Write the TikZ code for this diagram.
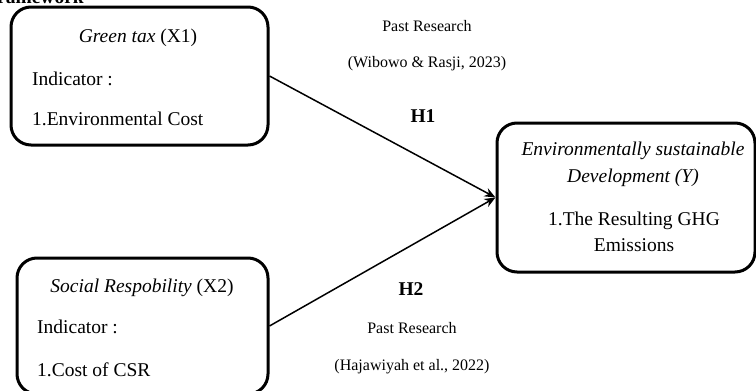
\documentclass[tikz,border=0pt]{standalone}
\usepackage{fontspec}
\setmainfont{Liberation Serif}
\usetikzlibrary{arrows.meta}
\begin{document}
\begin{tikzpicture}[x=1pt,y=-1pt,
  box/.style={draw=black,line width=3pt,rounded corners=20pt,inner sep=0pt},
  txt/.style={inner sep=0pt,font=\fontsize{19.5}{22}\selectfont},
  small/.style={inner sep=0pt,font=\fontsize{16}{19}\selectfont},
  conn/.style={line width=1.5pt,-{Stealth[length=11pt,width=9pt]}}]
\useasboundingbox (0,0) rectangle (756,391);
\node[txt,anchor=base west,font=\fontsize{19.5}{22}\selectfont\bfseries] (ttl) at (-15,3) {Framework};
% boxes
\node[box,minimum width=257pt,minimum height=138pt] (b1) at (139.5,76) {};
\node[box,minimum width=251pt,minimum height=136pt] (b2) at (142.5,326) {};
\node[box,minimum width=258pt,minimum height=149pt] (by) at (626,197.5) {};
% box 1 text
\node[txt,anchor=base] (g1) at (138,42) {\textit{Green tax} (X1)};
\node[txt,anchor=base west] (g2) at (32,85) {Indicator :};
\node[txt,anchor=base west] (g3) at (32,125) {1.Environmental Cost};
% box 2 text
\node[txt,anchor=base] (s1) at (142,292) {\textit{Social Respobility} (X2)};
\node[txt,anchor=base west] (s2) at (37,333) {Indicator :};
\node[txt,anchor=base west] (s3) at (37,376) {1.Cost of CSR};
% box Y text
\node[txt,anchor=base] (y1) at (633,155) {\textit{Environmentally sustainable}};
\node[txt,anchor=base] (y2) at (633,182) {\textit{Development (Y)}};
\node[txt,anchor=base] (y3) at (634,225) {1.The Resulting GHG};
\node[txt,anchor=base] (y4) at (634,251) {Emissions};
% labels
\node[small,anchor=base] (p1) at (427,31) {Past Research};
\node[small,anchor=base] (c1) at (427,67) {(Wibowo \& Rasji, 2023)};
\node[txt,anchor=base,font=\fontsize{19.5}{22}\selectfont\bfseries] (h1) at (423,122) {H1};
\node[txt,anchor=base,font=\fontsize{19.5}{22}\selectfont\bfseries] (h2) at (411,295) {H2};
\node[small,anchor=base] (p2) at (412,333) {Past Research};
\node[small,anchor=base] (c2) at (412,370) {(Hajawiyah et al., 2022)};
% connectors
\draw[conn] (b1.east) -- (by.west);
\draw[conn] (b2.east) -- (by.west);
\end{tikzpicture}
\end{document}
